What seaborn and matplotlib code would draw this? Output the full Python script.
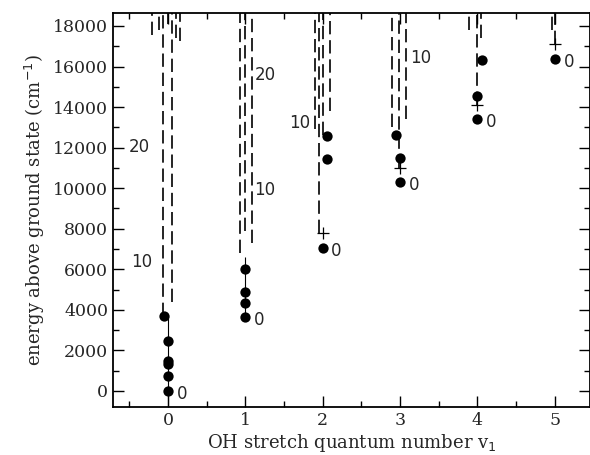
import matplotlib
matplotlib.use("Agg")
import matplotlib.pyplot as plt
import numpy as np
import pandas as pd
import seaborn as sns

# niveles observados (puntos negros)
dot_v = [0, 0, 0, 0, 0, 0, 1, 1, 1, 1, 2, 2, 2, 3, 3, 3, 4, 4, 4, 5]
dot_shift = [-0.05, 0, 0, 0, 0, 0, 0, 0, 0, 0, 0.05, 0.05, 0, -0.05, 0, 0, 0.06, 0, 0, 0]
dot_E = [3700, 2450, 1480, 1320, 760, 0,
         6020, 4870, 4320, 3630,
         12570, 11450, 7040,
         12620, 11470, 10320,
         16320, 14550, 13410,
         16370]

# niveles calculados (+)
plus_v = [2, 3, 4, 5]
plus_E = [7780, 10980, 14100, 17100]

# progresiones (lineas a trazos): v, desplazamiento, energia inicial
prog_v = [0, 0, 0, 0, 0, 0, 0,
          1, 1, 1,
          2, 2, 2, 2,
          3, 3, 3,
          4, 4, 4,
          5, 5]
prog_shift = [-0.07, 0.05, -0.2, -0.11, 0.0, 0.1, 0.15,
              -0.07, 0.0, 0.08,
              -0.1, -0.05, 0.0, 0.1,
              -0.1, -0.01, 0.07,
              -0.11, -0.01, 0.05,
              -0.04, 0.0]
prog_E0 = [3700, 4400, 17550, 17800, 18100, 17400, 17250,
           6800, 7900, 7300,
           12900, 7800, 12600, 13800,
           13000, 11000, 13400,
           17800, 14100, 17400,
           17800, 17100]

# etiquetas de la progresion (numero cuantico)
lab_text = ["20", "10", "20", "10", "10", "10"]
lab_x = [-0.37, -0.34, 1.12, 1.12, 1.7, 3.13]
lab_E = [12030, 6360, 15580, 9910, 13200, 16420]
lab_ha = ["center", "center", "left", "left", "center", "left"]

# etiqueta "0" del nivel mas bajo de cada v1
zero_v = [0, 1, 2, 3, 4, 5]
zero_E = [0, 3630, 7040, 10320, 13410, 16370]

ymin, ymax = -790, 18640

sns.set_style("ticks")
plt.rcParams['font.family'] = ['DejaVu Serif']

fig = plt.figure(figsize=(5.9, 4.55), dpi=100)
ax = fig.add_axes([0.1915, 0.1055, 0.808, 0.866])

df = pd.DataFrame({"v": np.array(dot_v) + np.array(dot_shift), "E": dot_E})

# lineas de las progresiones
ax.vlines(np.array(prog_v) + np.array(prog_shift), prog_E0, ymax,
          colors="black", linewidth=1.2, linestyles=(0, (8, 3.5)))
# tallos finos
ax.vlines([0, 1], [ymin, 3630], [3700, 6600], colors="black", linewidth=0.8)

sns.scatterplot(data=df, x="v", y="E", ax=ax, color="black", s=55,
                edgecolor="black", linewidth=0, zorder=5)
ax.scatter(plus_v, plus_E, marker="+", s=70, color="black", linewidth=0.9, zorder=5)

for t, x, y, ha in zip(lab_text, lab_x, lab_E, lab_ha):
    ax.text(x, y, t, ha=ha, va="center", fontsize=12, family="DejaVu Sans")
for v, y in zip(zero_v, zero_E):
    ax.text(v + 0.11, y - 150, "0", ha="left", va="center", fontsize=12, family="DejaVu Sans")

ax.set_xlim(-0.71, 5.45)
ax.set_ylim(ymin, ymax)
ax.set_xticks(range(6))
ax.set_xticks(np.arange(-0.5, 5.5, 0.5), minor=True)
ax.set_yticks(range(0, 18001, 2000))
ax.set_yticks(range(0, 18001, 1000), minor=True)
ax.tick_params(which="both", direction="in", top=True, right=True, labelsize=12.5,
               width=1.0, color="black")
ax.tick_params(which="major", length=8)
ax.tick_params(which="minor", length=4)
for s in ax.spines.values():
    s.set_linewidth(1.3)
    s.set_color("black")

ax.set_xlabel("OH stretch quantum number v$_1$", fontsize=13, labelpad=2)
ax.set_ylabel("energy above ground state (cm$^{-1}$)", fontsize=13, labelpad=4)

fig.savefig("out.png", dpi=100)
